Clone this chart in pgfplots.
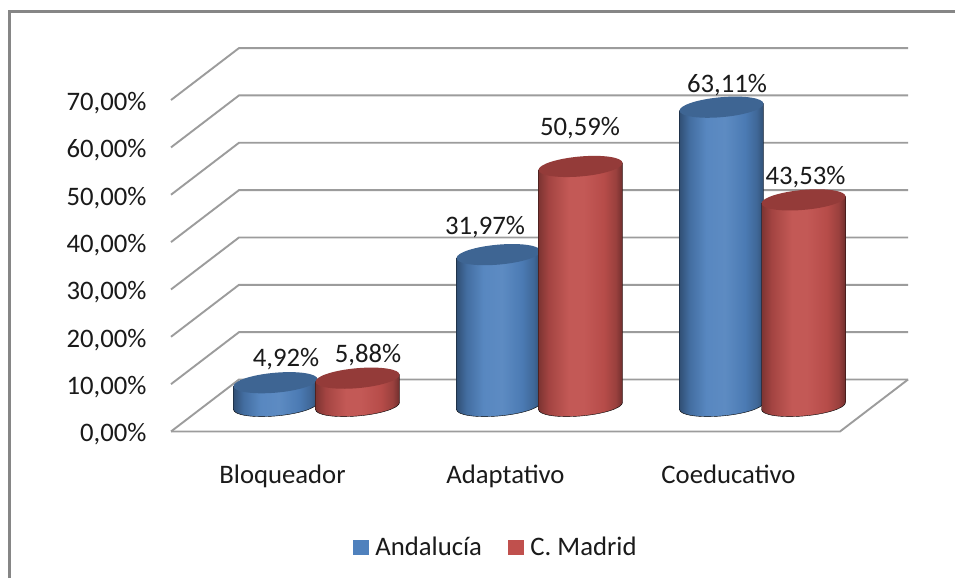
\documentclass[border=0pt]{standalone}
\usepackage{fontspec}
\setmainfont{Carlito}
\usepackage{pgfplots}
\usepackage{pgfplotstable}
\pgfplotsset{compat=1.18}
\definecolor{gridc}{HTML}{9C9C9C}
\definecolor{framec}{HTML}{868686}
\definecolor{txt}{HTML}{1A1A1A}
\definecolor{andalucia}{HTML}{4F81BD}
\definecolor{madrid}{HTML}{C0504D}
\definecolor{bluetop}{HTML}{3E6593}
\definecolor{redtop}{HTML}{943B39}
\pgfdeclarehorizontalshading{blueCyl}{100bp}{
  color(0bp)=(andalucia!62!black); color(25bp)=(andalucia!62!black);
  color(31bp)=(andalucia!85!black); color(41bp)=(andalucia!95!white);
  color(52bp)=(andalucia!92!white); color(64bp)=(andalucia!95!black);
  color(71bp)=(andalucia!80!black); color(75bp)=(andalucia!62!black); color(100bp)=(andalucia!62!black)}
\pgfdeclarehorizontalshading{redCyl}{100bp}{
  color(0bp)=(madrid!62!black); color(25bp)=(madrid!65!black);
  color(31bp)=(madrid!85!black); color(43bp)=(madrid!95!white);
  color(52bp)=(madrid!95!white); color(64bp)=(madrid!95!black);
  color(71bp)=(madrid!80!black); color(75bp)=(madrid!58!black); color(100bp)=(madrid!58!black)}
\pgfdeclareplotmark{emptym}{}
% one cylinder, drawn from the point's own value: #1 shading, #2 top colour
\newcommand{\cylinder}[2]{%
  \pgfmathsetmacro{\h}{4.735*\val}%
  \begin{scope}
    \shade[shading=#1]
      (-42pt,-3.5pt) -- (-42pt,{-3.5pt-\h pt})
      .. controls (-42pt,{-9.02pt-\h pt}) and (-23.2pt,{-11.93pt-\h pt}) .. (0pt,{-10pt-\h pt})
      .. controls (23.2pt,{-8.07pt-\h pt}) and (42pt,{-2.02pt-\h pt}) .. (42pt,{3.5pt-\h pt})
      -- (42pt,3.5pt) -- cycle;
    \pgfsetfillcolor{#2}%
    \pgfpathellipse{\pgfpointorigin}{\pgfqpoint{42pt}{3.5pt}}{\pgfqpoint{0pt}{10pt}}%
    \pgfusepath{fill}%
  \end{scope}}
\pgfplotstableread{
x v
0.8161 4.92
1.8161 31.97
2.8161 63.11
}\andtable
\pgfplotstableread{
x v
1.1839 5.88
2.1839 50.59
3.1839 43.53
}\madtable
\begin{document}
\begin{tikzpicture}[x=1pt,y=1pt]
\path[use as bounding box,fill=white] (0,0) rectangle (955,578);
\draw[framec,line width=2.6pt] (9.5,0) -- (9.5,566.5) -- (955,566.5);
\begin{axis}[
  at={(171pt,146.5pt)},anchor=south west,
  scale only axis,width=669pt,height=331.45pt,
  xmin=0,xmax=3,ymin=0,ymax=70,clip=false,
  axis line style={draw=none},major tick length=0pt,
  xtick={0.5,1.5,2.5},xticklabels={Bloqueador,Adaptativo,Coeducativo},
  ytick={0,10,...,70},
  /pgf/number format/assume math mode=true,
  yticklabel={\pgfmathprintnumber[use comma,fixed,fixed zerofill,precision=2]{\tick}\%},
  tick label style={font=\fontsize{26.7}{30}\selectfont,text=txt},
  yticklabel style={xshift=-21pt,yshift=-3pt},
  xticklabel style={yshift=-30pt},
]
\pgfplotsinvokeforeach{0,10,...,70}{
  \addplot[gridc,line width=1.9pt,forget plot] coordinates {(0,#1) (0.305,#1+10.98) (3.305,#1+10.98)};
}
\addplot[gridc,line width=1.9pt,forget plot] coordinates {(0,0) (3,0) (3.305,10.98)};
\end{axis}
\begin{axis}[
  at={(171pt,146.5pt)},anchor=south west,
  scale only axis,width=669pt,height=331.45pt,
  xmin=0.3475,xmax=3.3475,ymin=-5.385,ymax=64.615,clip=false,
  axis lines=none,
  legend columns=2,
  legend style={at={(0.4855,-0.348)},anchor=center,draw=none,fill=none,
    font=\fontsize{26.7}{30}\selectfont,text=txt,
    /tikz/column 1/.style={column sep=5pt},
    /tikz/column 2/.style={column sep=24pt},
    /tikz/column 3/.style={column sep=5pt}},
]
\addplot[only marks,mark=emptym,scatter,point meta=y,
  visualization depends on={rawy \as \val},
  scatter/@pre marker code/.code={\cylinder{blueCyl}{bluetop}},
  scatter/@post marker code/.code={},
  legend image code/.code={\fill[andalucia] (0pt,-7pt) rectangle ++(15pt,14pt);},
] table[x=x,y=v] {\andtable};
\addlegendentry{Andalucía}
\addplot[only marks,mark=emptym,scatter,point meta=y,
  visualization depends on={rawy \as \val},
  scatter/@pre marker code/.code={\cylinder{redCyl}{redtop}},
  scatter/@post marker code/.code={},
  legend image code/.code={\fill[madrid] (0pt,-7pt) rectangle ++(15pt,14pt);},
] table[x=x,y=v] {\madtable};
\addlegendentry{C. Madrid}
\end{axis}
\begin{scope}[every node/.style={font=\fontsize{26.7}{30}\selectfont,text=txt,inner sep=0pt}]
\node at (286,578-359) {4,92\%};
\node at (368,578-355) {5,88\%};
\node at (485,578-227) {31,97\%};
\node at (580,578-128) {50,59\%};
\node at (727,578-85) {63,11\%};
\node at (805.5,578-177) {43,53\%};
\end{scope}
\end{tikzpicture}
\end{document}
